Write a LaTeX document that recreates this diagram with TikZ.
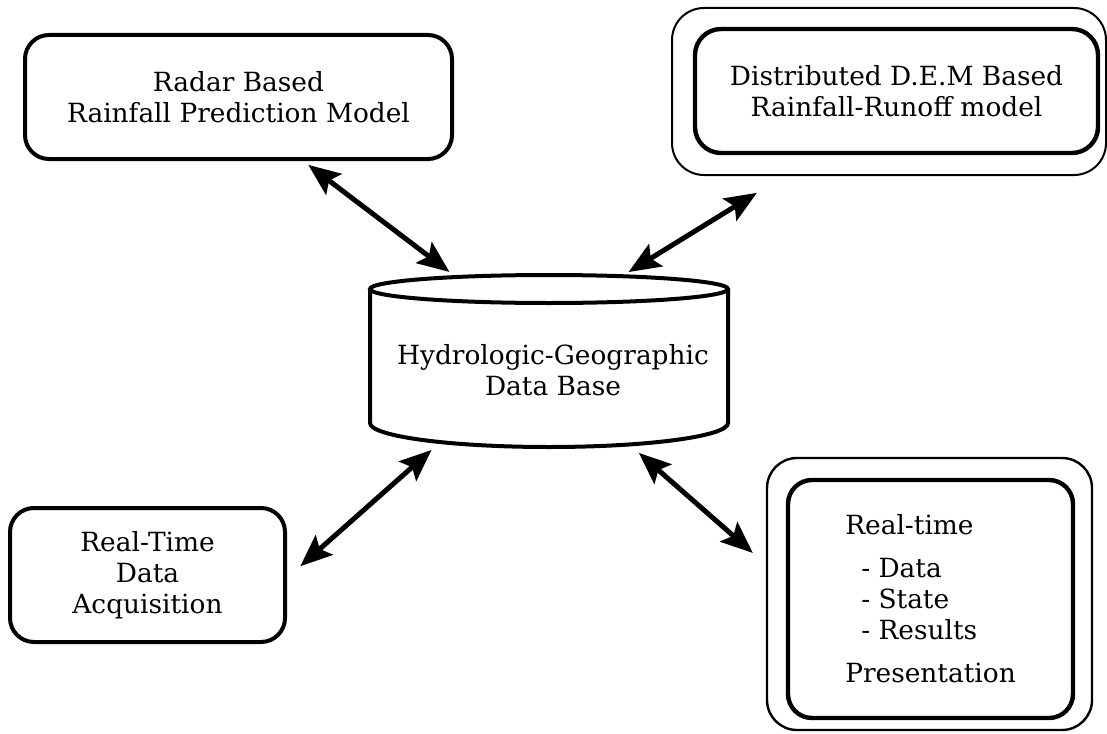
\documentclass[tikz,border=0pt]{standalone}
\usepackage{fontspec}
\setmainfont{DejaVu Serif}
\usetikzlibrary{arrows.meta}
\newcommand{\boxfont}{\fontsize{13.2}{15.5}\selectfont}

\tikzset{
  box/.style={draw, line width=2pt, rounded corners=12pt, outer sep=0pt, inner sep=0pt, align=center, font=\boxfont},
  frame/.style={draw, line width=1pt, rounded corners=16pt, outer sep=0pt},
  dbline/.style={line width=2pt},
  link/.style={line width=2.5pt, {Stealth[length=16pt,width=13pt,inset=3pt]}-{Stealth[length=16pt,width=13pt,inset=3pt]}},
}

\begin{document}
\begin{tikzpicture}[x=1pt, y=1pt]
\useasboundingbox (0,0) rectangle (553.5,-366.5);

% models and data sources
\node[box, minimum width=213.5pt, minimum height=62pt] (radar) at (119.25,-48.5)
  {Radar Based\\ Rainfall Prediction Model};
\node[frame, minimum width=217pt, minimum height=83.5pt] (demframe) at (444.5,-45.75) {};
\node[box, line width=2.2pt, rounded corners=13pt, minimum width=201.5pt, minimum height=62pt] (dem) at (448.25,-45.5)
  {Distributed D.E.M Based\\ Rainfall-Runoff model};
\node[box, minimum width=137.5pt, minimum height=67pt] (acq) at (73.75,-287.5)
  {Real-Time\\ Data\\ Acquisition};
\node[frame, line width=1.2pt, rounded corners=15pt, minimum width=162.5pt, minimum height=136pt] (presframe) at (464.75,-297) {};
\node[box, line width=2.2pt, align=left, minimum width=142.5pt, minimum height=119pt] (pres) at (465.25,-299.5)
  {Real-time\\[6pt] \hspace{8pt}- Data\\ \hspace{8pt}- State\\ \hspace{8pt}- Results\\[6pt] Presentation};

% data base cylinder
\node[outer sep=0pt, inner sep=0pt, minimum width=179pt, minimum height=86pt] (db) at (274.5,-180.5) {};
\draw[dbline] ([yshift=-7pt]db.north) ellipse [x radius=89.5pt, y radius=7pt];
\draw[dbline] ([yshift=-7pt]db.north west) -- ([yshift=12pt]db.south west)
  arc[start angle=180, end angle=360, x radius=89.5pt, y radius=12pt] -- ([yshift=-7pt]db.north east);
\node[font=\boxfont, align=center] (dbtext) at (276.5,-185) {Hydrologic-Geographic\\ Data Base};

% links
\draw[link, shorten <=2.5pt, shorten >=4.9pt] (db.138.7) -- (radar.-45.1);
\draw[link, shorten <=2.8pt, shorten >=17pt] (db.49.2) -- (demframe.-141.5);
\draw[link, shorten <=2.2pt, shorten >=10.2pt] (db.-143.8) -- (acq.-2.4);
\draw[link, shorten <=4.5pt, shorten >=9.4pt] (db.-46.3) -- (presframe.170.7);
\end{tikzpicture}
\end{document}
